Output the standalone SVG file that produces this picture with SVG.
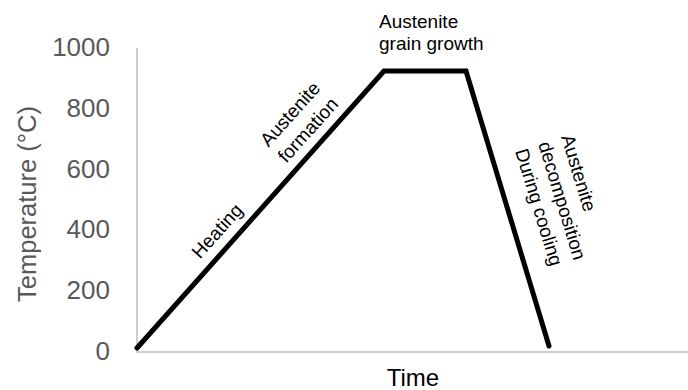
<svg xmlns="http://www.w3.org/2000/svg" width="688" height="390" viewBox="0 0 688 390">
<style>
.tick{font-family:"Liberation Sans",Arial,sans-serif;font-size:26px;fill:#595959;text-anchor:end}
.title{font-family:"Liberation Sans",Arial,sans-serif;font-size:25.5px;fill:#595959;text-anchor:middle}
.lbl{font-family:"Liberation Sans",Arial,sans-serif;font-size:19px;fill:#000}
.axis{stroke:#bfbfbf;stroke-width:1.5;fill:none}
.curve{stroke:#000;stroke-width:5;fill:none;stroke-linecap:round;stroke-linejoin:miter}
</style>
<rect width="688" height="390" fill="#fff"/>
<g id="axes">
<path class="axis" d="M137,48 V352 H688"/>
<text class="tick" x="110" y="56">1000</text>
<text class="tick" x="110" y="117">800</text>
<text class="tick" x="110" y="178">600</text>
<text class="tick" x="110" y="238">400</text>
<text class="tick" x="110" y="299">200</text>
<text class="tick" x="110" y="360">0</text>
<text class="title" transform="translate(36,204) rotate(-90)">Temperature (°C)</text>
<text class="lbl" x="413" y="386" style="font-size:24px;text-anchor:middle">Time</text>
</g>
<g id="connectors">
<path class="curve" d="M137,348 L384,71 L466,71 L549,346"/>
</g>
<g id="heating">
<text class="lbl" text-anchor="middle" transform="translate(217,231) rotate(-48)" y="6.5">Heating</text>
</g>
<g id="formation">
<text class="lbl" text-anchor="middle" transform="translate(299,122) rotate(-48)"><tspan x="0" y="-5.5">Austenite</tspan><tspan x="0" y="18.5">formation</tspan></text>
</g>
<g id="growth">
<text class="lbl"><tspan x="379" y="28">Austenite</tspan><tspan x="379" y="50">grain growth</tspan></text>
</g>
<g id="cooling">
<text class="lbl" transform="translate(561,137) rotate(73)"><tspan x="0" y="0">Austenite</tspan><tspan x="0" y="24">decomposition</tspan><tspan x="0" y="48">During cooling</tspan></text>
</g>
</svg>
